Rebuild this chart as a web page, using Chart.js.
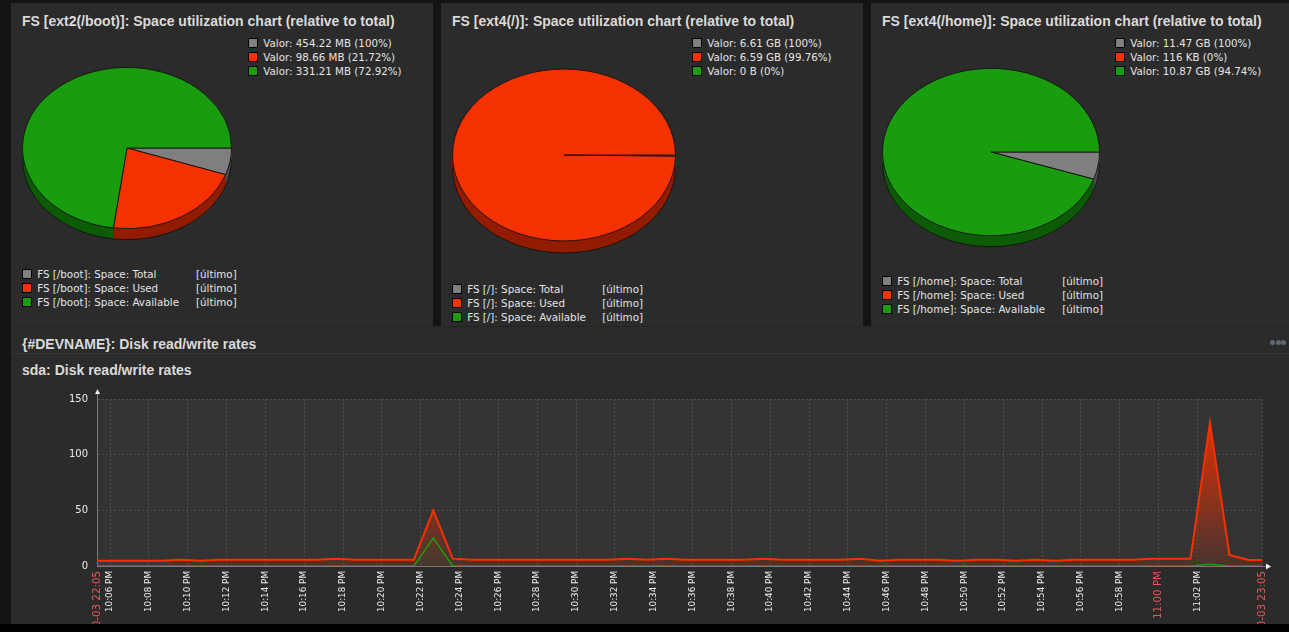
<!DOCTYPE html>
<html><head><meta charset="utf-8">
<script src="https://cdn.jsdelivr.net/npm/chart.js@4.4.0/dist/chart.umd.min.js"></script>
<style>
html,body{margin:0;padding:0;background:#131416;width:1289px;height:632px;overflow:hidden;position:relative;}
.panel{position:absolute;background:#2b2b2b;}
.title{position:absolute;font:bold 14px "Liberation Sans",Arial,sans-serif;color:#dadada;white-space:nowrap;line-height:16px;}
.lgtext{position:absolute;font:10.3px "DejaVu Sans",sans-serif;color:#e4e4e4;white-space:nowrap;line-height:14px;height:14px;}
.sq{position:absolute;width:8px;height:8px;border:1px solid #000;}
canvas{position:absolute;}
.dot{position:absolute;width:5px;height:5px;border-radius:50%;background:#5b6977;}
</style></head><body>
<div id="root"></div>
<script>
// ---------- data ----------
const panelTitles = [
  'FS [ext2(/boot)]: Space utilization chart (relative to total)',
  'FS [ext4(/)]: Space utilization chart (relative to total)',
  'FS [ext4(/home)]: Space utilization chart (relative to total)'
];
const mountPoints = ['/boot', '/', '/home'];
const itemNames = ['Space: Total', 'Space: Used', 'Space: Available'];
const funcLabel = '[último]';
const bootSizes = ['454.22 MB', '98.66 MB', '331.21 MB'];
const bootPct = [100, 21.72, 72.92];
const rootSizes = ['6.61 GB', '6.59 GB', '0 B'];
const rootPct = [100, 99.76, 0];
const homeSizes = ['11.47 GB', '116 KB', '10.87 GB'];
const homePct = [100, 0, 94.74];

const graphTitle = '{#DEVNAME}: Disk read/write rates';
const graphSubtitle = 'sda: Disk read/write rates';

// minutes after 22:00
const rateMinutes = [4.65,5.65,6.65,7.65,8.65,9.65,10.65,11.65,12.65,13.65,14.65,15.65,16.65,17.65,18.65,19.65,20.65,21.65,22.65,23.65,24.65,25.65,26.65,27.65,28.65,29.65,30.65,31.65,32.65,33.65,34.65,35.65,36.65,37.65,38.65,39.65,40.65,41.65,42.65,43.65,44.65,45.65,46.65,47.65,48.65,49.65,50.65,51.65,52.65,53.65,54.65,55.65,56.65,57.65,58.65,59.65,60.65,61.65,62.65,63.65,64.65,65.65];
const writeRate = [4.8,4.8,4.8,4.8,4.8,5.7,4.8,5.7,5.7,5.7,5.7,5.7,5.7,6.6,5.7,5.7,5.7,5.7,50,6.6,5.7,5.7,5.7,5.7,5.7,5.7,5.7,5.7,6.6,5.7,6.6,5.7,5.7,5.7,5.7,6.6,5.7,5.7,5.7,5.7,6.6,4.8,5.7,5.7,5.7,4.8,5.7,5.7,4.8,5.7,4.8,5.7,5.7,5.7,5.7,6.6,6.6,6.6,129,9.9,5.4,5.4];
const readRate = [0,0,0,0,0,0,0,0,0,0,0,0,0,0,0,0,0,0,25,0,0,0,0,0,0,0,0,0,0,0,0,0,0,0,0,0,0,0,0,0,0,0,0,0,0,0,0,0,0,0,0,0,0,0,0,0,0,0,1.5,0,0,0];
const xMin = 5.33, xMax = 65.33;
const xTickMinutes = [5.33,6,8,10,12,14,16,18,20,22,24,26,28,30,32,34,36,38,40,42,44,46,48,50,52,54,56,58,60,62,65.33];
const xTickLabels = ['10-03 22:05','10:06 PM','10:08 PM','10:10 PM','10:12 PM','10:14 PM','10:16 PM','10:18 PM','10:20 PM','10:22 PM','10:24 PM','10:26 PM','10:28 PM','10:30 PM','10:32 PM','10:34 PM','10:36 PM','10:38 PM','10:40 PM','10:42 PM','10:44 PM','10:46 PM','10:48 PM','10:50 PM','10:52 PM','10:54 PM','10:56 PM','10:58 PM','11:00 PM','11:02 PM','10-03 23:05'];
const xTickHighlight = [true,false,false,false,false,false,false,false,false,false,false,false,false,false,false,false,false,false,false,false,false,false,false,false,false,false,false,false,true,false,true];
const yMax = 150, yStep = 50;

// ---------- styles ----------
const pieColors = ['#7f7f7f', '#f63100', '#199c0d'];
const pieSideColors = ['#4c4c4c', '#931d00', '#0f5d08'];
const RATIO = 0.771;

const root = document.getElementById('root');
function el(tag, cls, style, text) {
  const e = document.createElement(tag);
  if (cls) e.className = cls;
  Object.assign(e.style, style || {});
  if (text !== undefined) e.textContent = text;
  root.appendChild(e);
  return e;
}

// panels
el('div', 'panel', {left:'11px', top:'3px', width:'422px', height:'323px'});
el('div', 'panel', {left:'441px', top:'3px', width:'422px', height:'323px'});
el('div', 'panel', {left:'871px', top:'3px', width:'418px', height:'323px'});
el('div', 'panel', {left:'11px', top:'326px', width:'1278px', height:'298px'});
el('div', null, {position:'absolute', left:'11px', top:'326px', width:'1278px', height:'1px', background:'#232323'});
el('div', null, {position:'absolute', left:'11px', top:'353px', width:'1278px', height:'1px', background:'#353535'});
el('div', null, {position:'absolute', left:'0px', top:'624px', width:'1289px', height:'8px', background:'#000'});

const pies = [
  {sizes: bootSizes, pct: bootPct, panelX: 11, cx: 127, cy: 148, rx: 105, depth: 11, vx: 248.3, vy: 42.7, ix: 22.3, iy: 274.3, col2: 196},
  {sizes: rootSizes, pct: rootPct, panelX: 441, cx: 564, cy: 155, rx: 112, depth: 12, vx: 692.3, vy: 42.7, ix: 452.3, iy: 288.7, col2: 602.3},
  {sizes: homeSizes, pct: homePct, panelX: 871, cx: 991, cy: 152, rx: 109, depth: 11, vx: 1115.3, vy: 42.7, ix: 882.3, iy: 281.3, col2: 1062.3}
];

const pie3d = {
  id: 'pie3d',
  beforeDatasetsDraw(chart, args, opts) {
    const ctx = chart.ctx;
    const meta = chart.getDatasetMeta(0);
    const a0 = meta.data[0];
    const cy = a0.y, cx = a0.x, r = a0.outerRadius;
    ctx.save();
    ctx.translate(0, cy); ctx.scale(1, opts.ratio); ctx.translate(0, -cy);
    const du = opts.depth / opts.ratio;
    for (let d = du; d >= 1; d -= 0.5) {
      meta.data.forEach((arc, i) => {
        if (arc.endAngle - arc.startAngle <= 0.0001) return;
        ctx.fillStyle = opts.sideColors[i];
        ctx.beginPath();
        ctx.moveTo(arc.x, arc.y + d);
        ctx.arc(arc.x, arc.y + d, arc.outerRadius, arc.startAngle, arc.endAngle);
        ctx.closePath();
        ctx.fill();
      });
    }
    ctx.strokeStyle = '#111';
    ctx.lineWidth = 1;
    ctx.beginPath();
    ctx.arc(cx, cy + du, r, 0, Math.PI);
    ctx.stroke();
  },
  afterDatasetsDraw(chart) { chart.ctx.restore(); }
};

pies.forEach((p, idx) => {
  el('div', 'title', {left: (p.panelX + 11) + 'px', top: '13px'}, panelTitles[idx]);
  for (let i = 0; i < 3; i++) {
    el('div', 'sq', {left: p.vx + 'px', top: (p.vy - 5 + i * 14) + 'px', background: pieColors[i]});
    el('div', 'lgtext', {left: (p.vx + 15) + 'px', top: (p.vy - 7 + i * 14) + 'px'}, 'Valor: ' + p.sizes[i] + ' (' + p.pct[i] + '%)');
  }
  for (let i = 0; i < 3; i++) {
    el('div', 'sq', {left: p.ix + 'px', top: (p.iy - 5 + i * 14) + 'px', background: pieColors[i]});
    el('div', 'lgtext', {left: (p.ix + 15) + 'px', top: (p.iy - 7 + i * 14) + 'px'}, 'FS [' + mountPoints[idx] + ']: ' + itemNames[i]);
    el('div', 'lgtext', {left: p.col2 + 'px', top: (p.iy - 7 + i * 14) + 'px'}, funcLabel);
  }
  const pad = 3;
  const du = p.depth / RATIO;
  const W = 2 * p.rx + 2 * pad;
  const H = Math.ceil(2 * p.rx + 2 * pad + du + 4);
  const c = document.createElement('canvas');
  c.width = W; c.height = H;
  c.style.left = (p.cx - p.rx - pad) + 'px';
  c.style.top = (p.cy - p.rx - pad) + 'px';
  c.style.zIndex = 1;
  root.appendChild(c);
  const slices = [Math.max(0, p.pct[0] - p.pct[1] - p.pct[2]), p.pct[1], p.pct[2]];
  new Chart(c, {
    type: 'pie',
    data: { labels: itemNames, datasets: [{ data: slices, backgroundColor: pieColors, borderColor: '#111', borderWidth: 1 }] },
    options: {
      responsive: false, animation: false, events: [],
      rotation: 90,
      layout: { padding: { left: pad, right: pad, top: pad, bottom: H - W + pad } },
      plugins: { legend: { display: false }, tooltip: { enabled: false }, pie3d: { ratio: RATIO, depth: p.depth, sideColors: pieSideColors } }
    },
    plugins: [pie3d]
  });
});

// bottom graph titles
el('div', 'title', {left: '22px', top: '336px'}, graphTitle);
el('div', 'title', {left: '22px', top: '361.5px'}, graphSubtitle);
el('div', 'dot', {left: '1270px', top: '340px'});
el('div', 'dot', {left: '1275.5px', top: '340px'});
el('div', 'dot', {left: '1281px', top: '340px'});

// line chart
const lc = document.createElement('canvas');
lc.width = 1278; lc.height = 244;
lc.style.left = '11px'; lc.style.top = '380px';
root.appendChild(lc);

const plotDeco = {
  id: 'plotDeco',
  beforeDraw(chart) {
    const {ctx, chartArea: a} = chart;
    ctx.save(); ctx.fillStyle = '#333333';
    ctx.fillRect(a.left, a.top, a.right - a.left, a.bottom - a.top);
    ctx.restore();
  },
  afterDraw(chart) {
    const {ctx, chartArea: a} = chart;
    const L = Math.round(a.left) + 0.5, B = Math.round(a.bottom) + 0.5, T = a.top, R = a.right;
    ctx.save();
    ctx.strokeStyle = '#7a7a7a'; ctx.lineWidth = 1;
    ctx.beginPath(); ctx.moveTo(L, T); ctx.lineTo(L, T - 5); ctx.stroke();
    ctx.beginPath(); ctx.moveTo(R, B); ctx.lineTo(R + 4, B); ctx.stroke();
    ctx.fillStyle = '#f0f0f0';
    ctx.beginPath(); ctx.moveTo(L - 2.5, T - 5); ctx.lineTo(L + 2.5, T - 5); ctx.lineTo(L, T - 10); ctx.closePath(); ctx.fill();
    ctx.beginPath(); ctx.moveTo(R + 4, B - 3); ctx.lineTo(R + 4, B + 3); ctx.lineTo(R + 9, B); ctx.closePath(); ctx.fill();
    ctx.restore();
  }
};

function grad(chart, rgb, a0, a1) {
  const {ctx, chartArea} = chart;
  if (!chartArea) return 'rgba(' + rgb + ',0.3)';
  const g = ctx.createLinearGradient(0, chartArea.top, 0, chartArea.bottom);
  g.addColorStop(0, 'rgba(' + rgb + ',' + a0 + ')');
  g.addColorStop(1, 'rgba(' + rgb + ',' + a1 + ')');
  return g;
}

new Chart(lc, {
  type: 'line',
  data: {
    datasets: [
      { label: 'sda: Disk read rate', order: 0,
        data: rateMinutes.map((m, i) => ({x: m, y: readRate[i]})),
        borderColor: '#199c0d', borderWidth: 1.5, pointRadius: 0, tension: 0,
        fill: 'origin', backgroundColor: (c) => grad(c.chart, '25,156,13', 0.25, 0.04) },
      { label: 'sda: Disk write rate', order: 1,
        data: rateMinutes.map((m, i) => ({x: m, y: writeRate[i]})),
        borderColor: '#f63100', borderWidth: 2, pointRadius: 0, tension: 0,
        fill: 'origin', backgroundColor: (c) => grad(c.chart, '246,49,0', 1, 0.1) }
    ]
  },
  options: {
    responsive: false, animation: false, events: [],
    layout: { padding: { top: 19, right: 27, left: 0, bottom: 0 } },
    plugins: { legend: { display: false }, tooltip: { enabled: false } },
    scales: {
      x: {
        type: 'linear', min: xMin, max: xMax,
        afterBuildTicks: (s) => { s.ticks = xTickMinutes.map(v => ({value: v})); },
        afterFit: (s) => { s.height = 58; },
        grid: { color: (c) => c.index === 0 ? 'rgba(0,0,0,0)' : '#4d4d4d', lineWidth: 1, drawTicks: false },
        border: { display: true, color: '#7a7a7a', width: 1, dash: [2, 2] },
        ticks: {
          autoSkip: false, minRotation: 90, maxRotation: 90, padding: 5,
          callback: (v, i) => xTickLabels[i],
          color: (c) => xTickHighlight[c.index] ? '#e45959' : '#ececec',
          font: (c) => ({ family: 'DejaVu Sans', size: xTickHighlight[c.index] ? 10.3 : 8.8 })
        }
      },
      y: {
        min: 0, max: yMax,
        afterFit: (s) => { s.width = 86; },
        grid: { color: (c) => (c.tick && c.tick.value === 0) ? 'rgba(0,0,0,0)' : '#4d4d4d', lineWidth: 1, drawTicks: false },
        border: { display: true, color: '#7a7a7a', width: 1, dash: [2, 2] },
        ticks: { stepSize: yStep, padding: 9, color: '#ececec', font: { family: 'DejaVu Sans', size: 10 } }
      }
    }
  },
  plugins: [plotDeco]
});
</script>
</body></html>
